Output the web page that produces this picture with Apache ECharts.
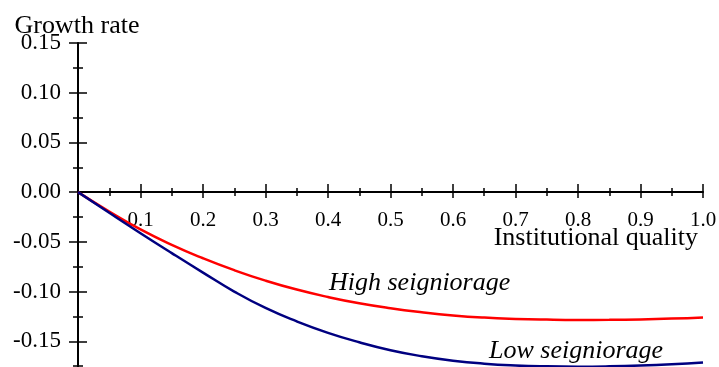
<!DOCTYPE html>
<html>
<head>
<meta charset="utf-8">
<script src="https://cdn.jsdelivr.net/npm/echarts@6/dist/echarts.min.js"></script>
<style>
    html, body { margin: 0; padding: 0; background: #fff; }
    #chart { width: 719px; height: 367px; }
</style>
</head>
<body>
<div id="chart"></div>
<script>
    // institutional quality (x) and growth rate for the two cases
    const quality = [0, 0.05, 0.1, 0.15, 0.2, 0.25, 0.3, 0.35, 0.4, 0.45, 0.5,
        0.55, 0.6, 0.65, 0.7, 0.75, 0.8, 0.85, 0.9, 0.95, 1.0]
    const highSeigniorage = [0, -0.0195, -0.0375, -0.053, -0.0665, -0.0785, -0.089, -0.098, -0.1055, -0.1118, -0.1168,
        -0.1208, -0.124, -0.1262, -0.1275, -0.1282, -0.1285, -0.1284, -0.128, -0.1272, -0.126]
    const lowSeigniorage = [0, -0.0208, -0.0413, -0.0613, -0.0809, -0.100, -0.1165, -0.130, -0.1415, -0.151, -0.159,
        -0.165, -0.1695, -0.1725, -0.1743, -0.1752, -0.1755, -0.1752, -0.1744, -0.1731, -0.1713]

    const serif = '"Liberation Serif", "DejaVu Serif", serif'
    const black = '#000'

    const pairs = (ys) => quality.map((x, i) => [x, ys[i]])

    // grid runs past the bottom edge (y down to -0.2), x axis is lifted to y = 0 by offset
    const gridTop = 43
    const gridBottom = -24
    const yMin = -0.2
    const yMax = 0.15
    const plotH = 367 - gridTop - gridBottom
    const xOffset = -Math.round(plotH * (0 - yMin) / (yMax - yMin))

    // two copies of each axis: one with ticks outside, one inside, so ticks cross the line
    const yBase = {
        type: 'value',
        position: 'left',
        min: yMin,
        max: yMax,
        interval: 0.05,
        splitLine: { show: false },
        minorSplitLine: { show: false }
    }
    const xBase = {
        type: 'value',
        position: 'bottom',
        offset: xOffset,
        min: 0,
        max: 1,
        interval: 0.1,
        splitLine: { show: false },
        minorSplitLine: { show: false }
    }

    const chart = echarts.init(document.getElementById('chart'), null, { renderer: 'canvas' })

    const option = {
        animation: false,
        backgroundColor: '#fff',
        grid: {
            left: 78, right: 16, top: gridTop, bottom: gridBottom,
            containLabel: false, outerBoundsMode: 'none'
        },
        xAxis: [
            Object.assign({}, xBase, {
                axisLine: { onZero: false, lineStyle: { color: black, width: 2 } },
                axisTick: { show: true, inside: false, length: 6, lineStyle: { color: black, width: 1.5 } },
                minorTick: { show: true, splitNumber: 2, length: 4, lineStyle: { color: black, width: 1.5 } },
                axisLabel: {
                    fontFamily: serif, fontSize: 21, color: black, margin: 18,
                    showMinLabel: true, showMaxLabel: true,
                    formatter: (v) => (v === 0 ? '' : v.toFixed(1))
                }
            }),
            Object.assign({}, xBase, {
                axisLine: { show: false, onZero: false },
                axisTick: { show: true, inside: true, length: 8, lineStyle: { color: black, width: 1.5 } },
                minorTick: { show: true, splitNumber: 2, length: 4, lineStyle: { color: black, width: 1.5 } },
                axisLabel: { show: false }
            })
        ],
        yAxis: [
            Object.assign({}, yBase, {
                axisLine: { show: true, onZero: false, lineStyle: { color: black, width: 2 } },
                axisTick: { show: true, inside: false, length: 9, lineStyle: { color: black, width: 1.5 } },
                minorTick: { show: true, splitNumber: 2, length: 5, lineStyle: { color: black, width: 1.5 } },
                axisLabel: {
                    fontFamily: serif, fontSize: 23, color: black, margin: 17,
                    padding: [7, 0, 0, 0],
                    showMaxLabel: true,
                    formatter: (v) => v.toFixed(2)
                }
            }),
            Object.assign({}, yBase, {
                axisLine: { show: false, onZero: false },
                axisTick: { show: true, inside: true, length: 9, lineStyle: { color: black, width: 1.5 } },
                minorTick: { show: true, splitNumber: 2, length: 5, lineStyle: { color: black, width: 1.5 } },
                axisLabel: { show: false }
            })
        ],
        graphic: [
            {
                type: 'text', x: 77, y: 13,
                style: { text: 'Growth rate', font: '26px ' + serif, fill: black, align: 'center' }
            },
            {
                type: 'text', right: 21, top: 225,
                style: { text: 'Institutional quality', font: '26px ' + serif, fill: black }
            },
            {
                type: 'text', left: 329, top: 270,
                style: { text: 'High seigniorage', font: 'italic 26px ' + serif, fill: black }
            },
            {
                type: 'text', left: 489, top: 338,
                style: { text: 'Low seigniorage', font: 'italic 26px ' + serif, fill: black }
            }
        ],
        series: [
            {
                name: 'High seigniorage',
                type: 'line',
                smooth: true,
                showSymbol: false,
                silent: true,
                lineStyle: { color: '#ff0000', width: 2.5 },
                data: pairs(highSeigniorage)
            },
            {
                name: 'Low seigniorage',
                type: 'line',
                smooth: true,
                showSymbol: false,
                silent: true,
                lineStyle: { color: '#000080', width: 2.5 },
                data: pairs(lowSeigniorage)
            }
        ]
    }

    chart.setOption(option)
</script>
</body>
</html>
